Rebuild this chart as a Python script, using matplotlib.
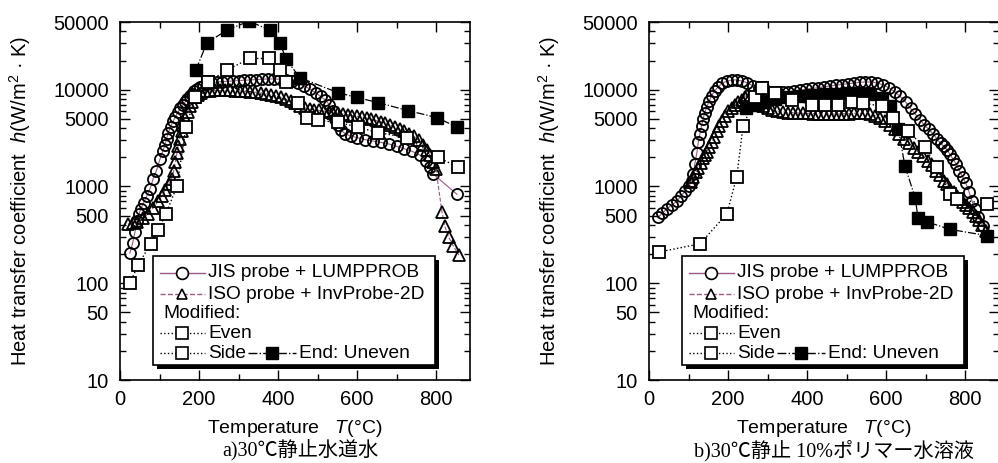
import matplotlib
matplotlib.use("Agg")
import matplotlib.pyplot as plt
from matplotlib.patches import Rectangle
from matplotlib.ticker import FixedLocator, FuncFormatter, NullFormatter

plt.rcParams.update({
    "font.family": ["Liberation Sans", "Noto Sans CJK JP", "DejaVu Sans"],
    "mathtext.fontset": "custom",
    "mathtext.rm": "Liberation Sans",
    "mathtext.it": "Liberation Sans:italic",
})

# ---------------- a) 30C still tap water ----------------
WATER_JIS_T = [25, 32, 38, 43, 48, 53, 60, 68, 76, 84, 92, 101, 108, 114, 118, 122, 128,
               134, 140, 147, 153, 160, 165, 170, 176, 182, 188, 195, 202, 210, 220, 232,
               245, 258, 272, 286, 300, 315, 330, 345, 360, 375, 390, 405, 420, 435, 450,
               465, 480, 495, 508, 520, 530, 538, 545, 552, 560, 570, 585, 600, 620, 640,
               660, 680, 700, 720, 740, 760, 775, 785, 793, 853]
WATER_JIS_H = [205, 260, 340, 440, 520, 590, 680, 800, 950, 1200, 1450, 1900, 2300, 2700,
               3100, 3600, 4100, 4700, 5200, 5900, 6400, 7000, 7500, 8000, 8600, 9100, 9600,
               10100, 10600, 11000, 11400, 11700, 12000, 12100, 12200, 12300, 12400, 12500,
               12600, 12700, 12800, 12900, 12900, 12800, 12600, 12200, 11600, 11000, 10200,
               9300, 8500, 7800, 7000, 6000, 5000, 4300, 3800, 3500, 3300, 3200, 3050, 2950,
               2850, 2750, 2600, 2450, 2300, 2100, 1850, 1600, 1340, 830]

WATER_ISO_T = [20, 32, 43, 57, 71, 84, 96, 106, 115, 123, 131, 136, 140, 144, 147, 151, 156,
               160, 165, 171, 177, 183, 190, 198, 206, 216, 228, 240, 252, 265, 278, 291,
               304, 317, 330, 343, 356, 369, 382, 395, 408, 420, 432, 444, 456, 468, 480,
               492, 504, 516, 528, 540, 552, 564, 576, 588, 600, 612, 624, 636, 648, 660,
               672, 684, 696, 708, 720, 732, 744, 756, 766, 776, 785, 793, 800, 815, 822,
               832, 843, 858]
WATER_ISO_H = [410, 420, 430, 470, 520, 600, 700, 800, 920, 1050, 1200, 1450, 1800, 2200,
               2600, 3100, 3700, 4300, 5150, 5900, 6700, 7500, 8300, 8900, 9300, 9600, 9700,
               9800, 9800, 9800, 9800, 9700, 9700, 9600, 9500, 9400, 9300, 9100, 8900, 8600,
               8300, 8000, 7600, 7200, 6800, 6500, 6300, 6200, 6100, 6000, 5900, 5800, 5700,
               5600, 5500, 5400, 5300, 5200, 5100, 4950, 4800, 4650, 4500, 4300, 4100, 3900,
               3700, 3500, 3300, 3000, 2700, 2400, 2100, 1780, 1500, 545, 390, 300, 245, 195]

WATER_EVEN_T = [25, 46, 78, 97, 116, 144, 167, 190, 223, 451, 473, 502, 552, 602, 653, 726,
                805, 856]
WATER_EVEN_H = [100, 155, 257, 355, 519, 1000, 4100, 8300, 12000, 7300, 5150, 4800, 4600,
                4100, 3600, 3200, 2000, 1580]

WATER_SIDE_T = [223, 271, 329, 377, 405, 420]
WATER_SIDE_H = [12000, 16000, 21000, 21000, 16000, 12000]

WATER_END_T = [192, 220, 271, 327, 380, 405, 420, 455, 552, 600, 653, 729, 802, 853]
WATER_END_H = [16000, 30400, 41400, 51000, 41000, 30400, 20800, 13300, 9300, 8300, 7350,
               6080, 5150, 4100]

# ---------------- b) 30C still 10% polymer solution ----------------
POLY_JIS_T = [23, 34, 45, 57, 70, 80, 91, 100, 108, 112, 116, 121, 125, 129, 133, 137, 141,
              146, 152, 159, 166, 175, 185, 197, 210, 222, 235, 248, 263, 278, 293, 308, 323,
              338, 353, 368, 383, 398, 413, 428, 443, 458, 473, 488, 503, 518, 533, 548, 563,
              578, 593, 608, 622, 636, 650, 662, 674, 686, 697, 708, 719, 729, 738, 746, 754,
              762, 770, 778, 786, 794, 802, 810, 818, 826, 834, 846]
POLY_JIS_H = [480, 530, 585, 640, 700, 790, 890, 1000, 1130, 1350, 1700, 2200, 2900, 3500,
              4200, 5000, 5800, 6600, 7600, 8700, 9700, 10700, 11600, 12300, 12600, 12600,
              12300, 11800, 11000, 10300, 9800, 9500, 9400, 9400, 9500, 9700, 9900, 10100,
              10300, 10500, 10700, 10900, 11100, 11300, 11500, 11700, 11900, 12000, 12000,
              11700, 11200, 10400, 9500, 8500, 7400, 6400, 5600, 4900, 4300, 3900, 3500, 3100,
              2800, 2600, 2400, 2150, 1900, 1700, 1450, 1250, 1080, 880, 700, 580, 480, 390]

POLY_ISO_T = [106, 112, 118, 125, 131, 137, 142, 146, 152, 159, 165, 172, 178, 185, 192,
              200, 209, 218, 226, 235, 242, 248, 256, 265, 276, 288, 300, 312, 325, 338, 351,
              364, 377, 390, 403, 416, 429, 442, 455, 468, 481, 494, 507, 520, 533, 546, 559,
              572, 585, 598, 610, 622, 634, 646, 658, 670, 682, 694, 706, 717, 727, 737, 746,
              755, 763, 771, 779, 787, 795, 803, 811, 819, 827, 835, 843, 852]
POLY_ISO_H = [1100, 1250, 1400, 1550, 1750, 1950, 2100, 2250, 2550, 2850, 3250, 3700,
              4200, 4700, 5300, 5950, 6500, 7000, 7500, 7900, 8400, 8900, 8300, 7700, 7100,
              6700, 6400, 6200, 6000, 5900, 5800, 5800, 5750, 5700, 5700, 5650, 5650, 5600,
              5600, 5600, 5600, 5650, 5650, 5700, 5700, 5700, 5600, 5400, 5100, 4700, 4300,
              3900, 3500, 3100, 2800, 2500, 2250, 2050, 1850, 1650, 1450, 1300, 1150, 1050,
              950, 870, 800, 740, 690, 640, 600, 550, 500, 450, 400, 350]

POLY_EVEN_T = [286, 319, 362, 413, 445, 479, 514, 542, 590, 618, 656, 699, 729, 762, 780, 856]
POLY_EVEN_H = [10500, 9300, 7900, 7000, 7000, 7000, 7500, 7300, 6700, 5150, 3700, 2530, 1580,
               830, 740, 660]

POLY_SIDE_T = [25, 129, 197, 222, 238, 268, 286]
POLY_SIDE_H = [210, 255, 520, 1250, 4170, 8300, 10500]

POLY_END_T = [245, 268, 290, 320, 350, 380, 410, 440, 470, 500, 530, 560, 590, 610, 631, 648,
              674, 681, 704, 762, 856]
POLY_END_H = [6500, 7000, 7500, 8000, 8300, 8600, 8800, 9000, 9100, 9200, 9200, 9000, 8200,
              6800, 3900, 1620, 760, 470, 430, 360, 310]

Y_MAJOR = [10, 50, 100, 500, 1000, 5000, 10000, 50000]
X_MAJOR = [0, 200, 400, 600, 800]

YLABEL = "Heat transfer coefficient  $h$(W/m$^2$ · K)"
XLABEL = "Temperature   $T$(°C)"
CAPTIONS = ["a)30℃静止水道水", "b)30℃静止 10%ポリマー水溶液"]

MAUVE = "#9a5a88"
W, H = 998, 463


def draw_panel(ax, jis, iso, even, side, end):
    ax.plot(*jis, ls="-", color=MAUVE, lw=0.8, marker="o", ms=8, mfc="none",
            mec="black", mew=1.3, zorder=3)
    ax.plot(*iso, ls="--", color=MAUVE, lw=0.8, marker="^", ms=8, mfc="none",
            mec="black", mew=1.3, zorder=4)
    ax.plot(*end, ls="-.", color="black", lw=0.9, marker="s", ms=8.5, mfc="black",
            mec="black", mew=1.0, zorder=5)
    for s in (even, side):
        ax.plot(*s, ls=":", color="black", lw=1.0, marker="s", ms=8.5, mfc="white",
                mec="black", mew=1.3, zorder=6)

    ax.set_yscale("log")
    ax.set_xlim(0, 886)
    ax.set_ylim(10, 50000)
    ax.yaxis.set_major_locator(FixedLocator(Y_MAJOR))
    minors = [m * d for d in (10, 100, 1000, 10000) for m in (2, 3, 4, 6, 7, 8, 9)
              if m * d < 50000]
    ax.yaxis.set_minor_locator(FixedLocator(minors))
    ax.yaxis.set_major_formatter(FuncFormatter(lambda v, p: f"{int(v)}"))
    ax.yaxis.set_minor_formatter(NullFormatter())
    ax.xaxis.set_major_locator(FixedLocator(X_MAJOR))
    ax.xaxis.set_minor_locator(FixedLocator([100, 300, 500, 700]))
    ax.tick_params(which="both", direction="in", top=True, right=True, width=1.0,
                   labelsize=14.5)
    ax.tick_params(which="major", length=7)
    ax.tick_params(which="minor", length=4)
    ax.tick_params(axis="y", pad=8)
    ax.tick_params(axis="x", pad=7)
    for sp in ax.spines.values():
        sp.set_linewidth(1.2)

    # hand-drawn key with drop shadow, as in the original figure
    t = ax.transAxes
    x0, y0, bw, bh = 0.095, 0.042, 0.805, 0.304
    ax.add_patch(Rectangle((x0 + 0.012, y0 - 0.012), bw, bh, transform=t,
                           facecolor="black", edgecolor="none", zorder=9))
    ax.add_patch(Rectangle((x0, y0), bw, bh, transform=t, facecolor="white",
                           edgecolor="black", lw=1.2, zorder=10))
    fs = 13.8
    rows = [0.299, 0.240, 0.187, 0.131, 0.075]
    xa, xb, xm, xt = 0.114, 0.243, 0.178, 0.252
    ax.plot([xa, xb], [rows[0]] * 2, transform=t, color=MAUVE, lw=1.0, zorder=11)
    ax.plot([xm], [rows[0]], transform=t, marker="o", ms=8.5, mfc="white", mec="black",
            mew=1.2, zorder=12)
    ax.text(xt, rows[0], "JIS probe + LUMPPROB", transform=t, va="center", fontsize=fs,
            zorder=12)
    ax.plot([xa, xb], [rows[1]] * 2, transform=t, color=MAUVE, lw=1.0, ls="--", zorder=11)
    ax.plot([xm], [rows[1]], transform=t, marker="^", ms=7.5, mfc="white", mec="black",
            mew=1.2, zorder=12)
    ax.text(xt, rows[1], "ISO probe + InvProbe-2D", transform=t, va="center", fontsize=fs,
            zorder=12)
    ax.text(0.123, rows[2], "Modified:", transform=t, va="center", fontsize=fs, zorder=12)
    for r, lab in ((rows[3], "Even"), (rows[4], "Side")):
        ax.plot([xa, xb], [r] * 2, transform=t, color="black", lw=1.0, ls=":", zorder=11)
        ax.plot([xm], [r], transform=t, marker="s", ms=8.5, mfc="white", mec="black",
                mew=1.2, zorder=12)
        ax.text(xt, r, lab, transform=t, va="center", fontsize=fs, zorder=12)
    ax.plot([0.365, 0.503], [rows[4]] * 2, transform=t, color="black", lw=1.0, ls="-.",
            zorder=11)
    ax.plot([0.434], [rows[4]], transform=t, marker="s", ms=8.5, mfc="black", mec="black",
            zorder=12)
    ax.text(0.512, rows[4], "End: Uneven", transform=t, va="center", fontsize=fs,
            zorder=12)


fig = plt.figure(figsize=(W / 100, H / 100), dpi=100)
panels = [
    (120, (WATER_JIS_T, WATER_JIS_H), (WATER_ISO_T, WATER_ISO_H),
     (WATER_EVEN_T, WATER_EVEN_H), (WATER_SIDE_T, WATER_SIDE_H),
     (WATER_END_T, WATER_END_H)),
    (649, (POLY_JIS_T, POLY_JIS_H), (POLY_ISO_T, POLY_ISO_H),
     (POLY_EVEN_T, POLY_EVEN_H), (POLY_SIDE_T, POLY_SIDE_H),
     (POLY_END_T, POLY_END_H)),
]
for i, (left, jis, iso, even, side, end) in enumerate(panels):
    ax = fig.add_axes([left / W, 1 - 380 / H, 350 / W, 358 / H])
    draw_panel(ax, jis, iso, even, side, end)
    fig.text((left - 100) / W, 1 - 201 / H, YLABEL, rotation=90, ha="center",
             va="center", fontsize=14.5)
    fig.text((left + 175) / W, 1 - 418 / H, XLABEL, ha="center", va="top",
             fontsize=14)
    fig.text((left + 180 + (5 if i else 0)) / W, 2 / H, CAPTIONS[i], ha="center",
             va="bottom", fontsize=14.5, family=["Liberation Serif", "Noto Sans CJK JP"])

fig.savefig("out.png", dpi=100)
